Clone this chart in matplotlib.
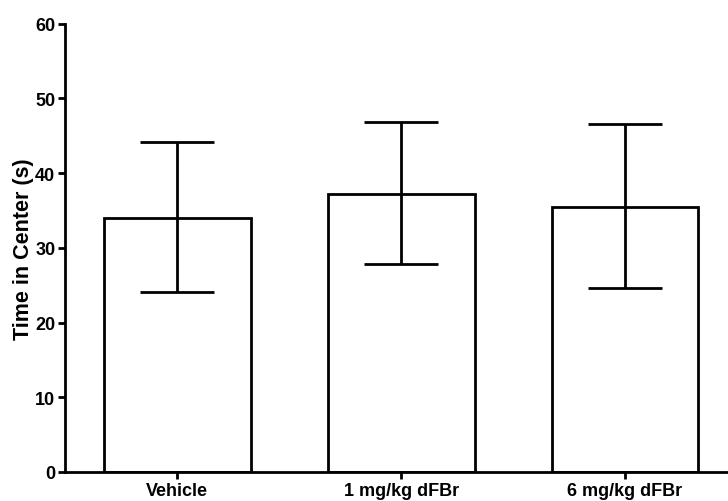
import numpy as np
import matplotlib
matplotlib.use('Agg')
import matplotlib.pyplot as plt

# values
groups = ['Vehicle', '1 mg/kg dFBr', '6 mg/kg dFBr']
means = [34.0, 37.2, 35.5]
err_low = [24.1, 27.8, 24.6]
err_high = [44.2, 46.9, 46.6]

plt.rcParams['font.family'] = ['Liberation Sans', 'DejaVu Sans']
plt.rcParams['font.weight'] = 'bold'

fig = plt.figure(figsize=(7.28, 5.02), dpi=100)
ax = fig.add_axes([0.0893, 0.0578, 0.9107, 0.8930])

x = np.arange(len(groups))
means = np.array(means)
yerr = np.array([means - np.array(err_low), np.array(err_high) - means])

ax.bar(x, means, width=0.656, color='white', edgecolor='black', linewidth=2, zorder=2)
ax.errorbar(x, means, yerr=yerr, fmt='none', ecolor='black', elinewidth=2,
            capsize=26.5, capthick=2, zorder=3)

ax.set_xlim(-0.502, 2.46)
ax.set_ylim(0, 60)
ax.set_yticks(np.arange(0, 61, 10))
ax.set_xticks(x)
ax.set_xticklabels(groups, fontsize=13, fontweight='bold')
for lab in ax.get_yticklabels():
    lab.set_fontsize(13)
    lab.set_fontweight('bold')
ax.set_ylabel('Time in Center (s)', fontsize=15.5, fontweight='bold', labelpad=1)

ax.spines['top'].set_visible(False)
ax.spines['right'].set_visible(False)
ax.spines['left'].set_linewidth(2)
ax.spines['bottom'].set_linewidth(2)
ax.tick_params(axis='both', width=2, length=5, direction='out', pad=2)

fig.savefig('out.png', dpi=100)
